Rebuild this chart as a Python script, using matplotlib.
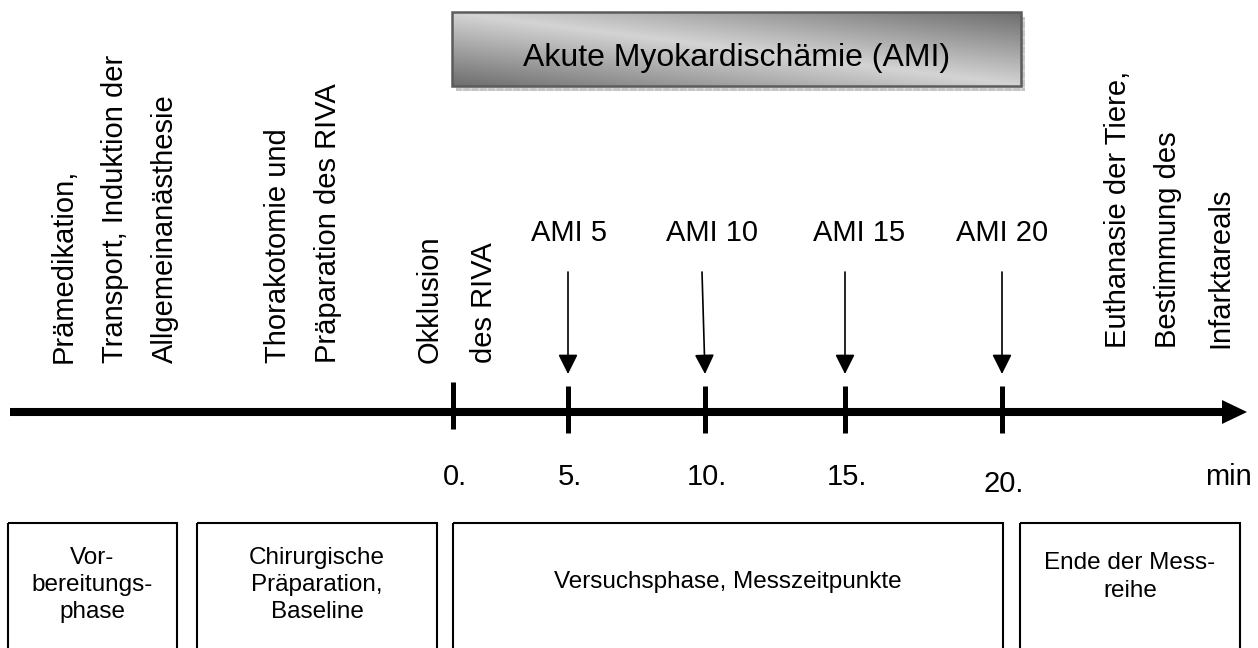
import numpy as np
import matplotlib.pyplot as plt
from matplotlib.patches import Rectangle

plt.rcParams['font.family'] = ['Liberation Sans', 'DejaVu Sans']

# timeline
tick_x = [453, 568, 705, 845, 1002]
number_labels = ['0.', '5.', '10.', '15.', '20.']
number_y = [477, 477, 477, 477, 484]

ami_labels = ['AMI 5', 'AMI 10', 'AMI 15', 'AMI 20']
ami_label_x = [569, 712, 859, 1002]
ami_arrow_top_x = [568, 702, 845, 1002]

# vertical notes above the axis
note_texts = ['Prämedikation,', 'Transport, Induktion der', 'Allgemeinanästhesie',
              'Thorakotomie und', 'Präparation des RIVA',
              'Okklusion', 'des RIVA',
              'Euthanasie der Tiere,', 'Bestimmung des', 'Infarktareals']
note_x = [64, 115, 165, 278, 328, 430, 484, 1118, 1168, 1220]
note_bottom = [363, 363, 363, 363, 363, 363, 363, 348, 348, 348]

# phase boxes at the bottom
phase_labels = ['Vor-\nbereitungs-\nphase',
                'Chirurgische\nPräparation,\nBaseline',
                'Versuchsphase, Messzeitpunkte',
                'Ende der Mess-\nreihe']
phase_left = [8, 197, 453, 1020]
phase_right = [177, 437, 1003, 1240]
phase_text_y = [585, 585, 582, 577]

W, H = 1258, 648
fig = plt.figure(figsize=(W / 100, H / 100), dpi=100)
ax = fig.add_axes([0, 0, 1, 1])
ax.set_xlim(0, W)
ax.set_ylim(H, 0)
ax.axis('off')

# header box with gradient + shadow
bx0, bx1, by0, by1 = 452, 1021, 12, 86
ax.add_patch(Rectangle((bx0 + 4, by0 + 5), bx1 - bx0, by1 - by0, facecolor='#c4c4c4',
                       edgecolor='#dcdcdc', hatch='++', linewidth=0, zorder=1))
u = np.linspace(0, 1, 300)[None, :]
v = np.linspace(1, 0, 60)[:, None]
t = np.abs(u + v - 1)
shade = 0.83 - 0.40 * t
ax.imshow(shade, cmap='gray', vmin=0, vmax=1, extent=(bx0, bx1, by1, by0),
          aspect='auto', zorder=2, interpolation='bilinear')
ax.add_patch(Rectangle((bx0, by0), bx1 - bx0, by1 - by0, fill=False,
                       edgecolor='#5c5c5c', linewidth=1.8, zorder=3))
ax.text((bx0 + bx1) / 2, 58, 'Akute Myokardischämie (AMI)', fontsize=23,
        ha='center', va='center', zorder=4)

# main axis with arrow head
ax_y = 412
ax.plot([10, 1225], [ax_y, ax_y], color='black', linewidth=5.8, solid_capstyle='butt')
ax.fill([1222, 1247, 1222], [ax_y - 12, ax_y, ax_y + 12], color='black', linewidth=0)

for i, x in enumerate(tick_x):
    top = 382 if i == 0 else 386
    ax.plot([x, x], [top, top + 47], color='black', linewidth=3.6, solid_capstyle='butt')
    ax.text(x + 2, number_y[i], number_labels[i], fontsize=21, ha='center', va='center')
ax.text(1228, 477, 'min', fontsize=21, ha='center', va='center')

for lab, lx, xt, xb in zip(ami_labels, ami_label_x, ami_arrow_top_x, tick_x[1:]):
    ax.text(lx, 233, lab, fontsize=21, ha='center', va='center')
    ax.annotate('', xy=(xb, 374), xytext=(xt, 272),
                arrowprops=dict(arrowstyle='-|>,head_length=0.6,head_width=0.3',
                                mutation_scale=20, color='black', lw=1.2,
                                shrinkA=0, shrinkB=0))

for txt, x, yb in zip(note_texts, note_x, note_bottom):
    ax.text(x, yb, txt, fontsize=21, rotation=90, ha='center', va='bottom')

for lab, l, r, ty in zip(phase_labels, phase_left, phase_right, phase_text_y):
    ax.add_patch(Rectangle((l, 523), r - l, 140, fill=False, edgecolor='black', linewidth=1.5))
    ax.text((l + r) / 2, ty, lab, fontsize=17.5, ha='center', va='center', linespacing=1.3)

fig.savefig('out.png', dpi=100)
